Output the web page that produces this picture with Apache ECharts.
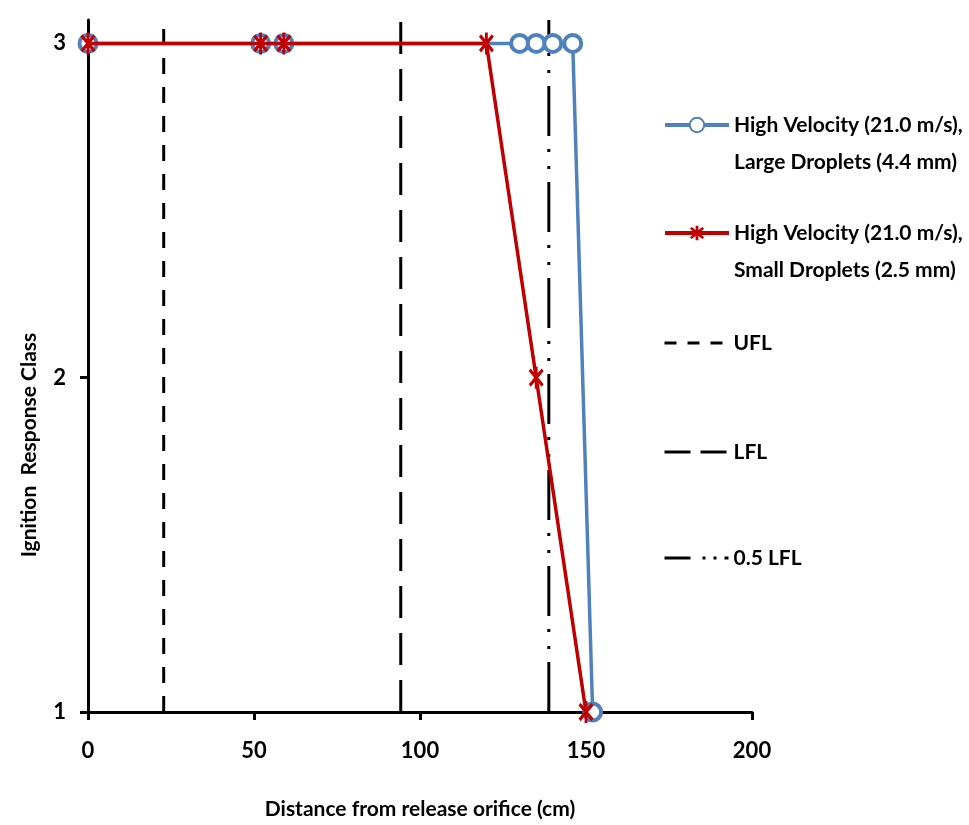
<!DOCTYPE html>
<html>
<head>
<meta charset="utf-8">
<script src="https://cdn.jsdelivr.net/npm/echarts@6/dist/echarts.min.js"></script>
<style>
  html, body { margin: 0; padding: 0; background: #fff; }
  #main { width: 969px; height: 825px; }
</style>
</head>
<body>
<div id="main"></div>
<script>
var dom = document.getElementById('main');
var myChart = echarts.init(dom, null, { renderer: 'canvas' });

// data
var largeX = [0, 52, 59, 130, 135, 140, 146, 152];
var largeY = [3, 3, 3, 3, 3, 3, 3, 1];
var smallX = [0, 52, 59, 120, 135, 150];
var smallY = [3, 3, 3, 3, 2, 1];
var limitNames = ['UFL', 'LFL', '0.5 LFL'];
var limitX = [22.8, 94.2, 138.8];
var classTicks = [1, 2, 3];
var yTop = 3.07;

var nameLarge = 'High Velocity (21.0 m/s), Large Droplets (4.4 mm)';
var nameSmall = 'High Velocity (21.0 m/s), Small Droplets (2.5 mm)';
var legendText = {};
legendText[nameLarge] = ' \nHigh Velocity (21.0 m/s),\nLarge Droplets (4.4 mm)';
legendText[nameSmall] = ' \nHigh Velocity (21.0 m/s),\nSmall Droplets (2.5 mm)';

var FONT = 'Lato, "Open Sans", sans-serif';
var dashes = [[16, 13], [32, 15], [50, 13, 3, 14, 3, 13]];
var legendDashes = [[12, 11], [26, 10], [26, 12, 3, 8, 3, 8]];

// asterisk marker (X plus vertical bar)
var starPath = 'path://M-1.6,-10L-1.6,10L1.6,10L1.6,-10Z' +
    'M6.0,8.3L8.3,6.0L-6.0,-8.3L-8.3,-6.0Z' +
    'M8.3,-6.0L6.0,-8.3L-8.3,6.0L-6.0,8.3Z';

function pairs(xs, ys) {
    return xs.map(function (x, i) { return [x, ys[i]]; });
}

var series = [];
limitNames.forEach(function (n, i) {
    series.push({
        name: n,
        type: 'line',
        symbol: 'none',
        color: '#000',
        lineStyle: { color: '#000', width: 3, type: dashes[i] },
        data: [[limitX[i], 1], [limitX[i], yTop]],
        z: 1
    });
});
series.push({
    name: nameLarge,
    type: 'line',
    color: '#4f81bd',
    symbol: 'circle',
    symbolSize: 17,
    itemStyle: { color: '#fff', borderColor: '#4f81bd', borderWidth: 4 },
    lineStyle: { color: '#4f81bd', width: 3.5 },
    data: pairs(largeX, largeY),
    z: 2
});
series.push({
    name: nameSmall,
    type: 'line',
    color: '#c00000',
    symbol: starPath,
    symbolSize: [18, 22],
    symbolKeepAspect: true,
    itemStyle: { color: '#c00000' },
    lineStyle: { color: '#c00000', width: 3.5 },
    data: pairs(smallX, smallY),
    z: 3
});

function legendFor(name, top, dash) {
    var lg = {
        data: [name],
        left: 663,
        top: top,
        padding: 0,
        orient: 'vertical',
        itemWidth: 64,
        itemHeight: 18,
        selectedMode: false,
        formatter: function (n) { return legendText[n] || n; },
        lineStyle: { width: 4 },
        textStyle: {
            fontFamily: FONT,
            fontWeight: 'bold',
            fontSize: 21,
            lineHeight: 37,
            color: '#000'
        }
    };
    if (dash) {
        lg.itemStyle = { opacity: 0 };
        lg.lineStyle = { width: 3, type: dash };
    }
    return lg;
}

var option = {
    animation: false,
    backgroundColor: '#fff',
    grid: { left: 88, right: 217, top: 20, bottom: 112 },
    legend: [
        legendFor(nameLarge, 69.5),
        legendFor(nameSmall, 177.5),
        legendFor('UFL', 324.5, legendDashes[0]),
        legendFor('LFL', 433.5, legendDashes[1]),
        legendFor('0.5 LFL', 539.5, legendDashes[2])
    ],
    xAxis: {
        type: 'value',
        min: 0,
        max: 200,
        interval: 50,
        name: 'Distance from release orifice (cm)',
        nameLocation: 'middle',
        nameGap: 87,
        nameTextStyle: { fontFamily: FONT, fontWeight: 'bold', fontSize: 21, color: '#000' },
        axisLine: { onZero: false, lineStyle: { color: '#000', width: 3 } },
        axisTick: { inside: false, length: 8, lineStyle: { color: '#000', width: 3 } },
        axisLabel: { margin: 28, fontFamily: FONT, fontWeight: 'bold', fontSize: 22, color: '#000' },
        splitLine: { show: false }
    },
    yAxis: {
        type: 'value',
        min: 1,
        max: yTop,
        name: 'Ignition  Response Class',
        nameLocation: 'middle',
        nameGap: 48,
        nameTextStyle: {
            fontFamily: FONT, fontWeight: 'bold', fontSize: 21, color: '#000',
            padding: [0, 158, 0, 0]
        },
        axisLine: { onZero: false, lineStyle: { color: '#000', width: 3 } },
        axisTick: { inside: false, length: 8, customValues: classTicks, lineStyle: { color: '#000', width: 3 } },
        axisLabel: { margin: 22, customValues: classTicks, fontFamily: FONT, fontWeight: 'bold', fontSize: 22, color: '#000' },
        splitLine: { show: false }
    },
    series: series
};

myChart.setOption(option);
window.addEventListener('resize', myChart.resize);
</script>
</body>
</html>
